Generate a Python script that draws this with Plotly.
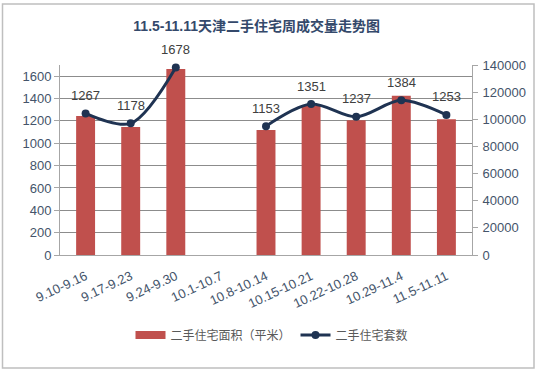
import plotly.graph_objects as go

categories = ["9.10-9.16", "9.17-9.23", "9.24-9.30", "10.1-10.7", "10.8-10.14",
              "10.15-10.21", "10.22-10.28", "10.29-11.4", "11.5-11.11"]
area_sqm = [102400, 94300, 137000, None, 92100, 109800, 99300, 117300, 100000]
units = [1267, 1178, 1678, None, 1153, 1351, 1237, 1384, 1253]

title_text = "11.5-11.11天津二手住宅周成交量走势图"
bar_name = "二手住宅面积（平米）"
line_name = "二手住宅套数"
FONT = "Liberation Sans, Noto Sans CJK SC, sans-serif"
W, H = 537, 375
L, R, T, B = 60, 65, 65, 120
pw, ph = W - L - R, H - T - B
BAR_COLOR = "#c0504d"
LINE_COLOR = "#1f3352"

def px_x(v):
    return (v - L) / pw

def px_y(v):
    return (H - B - v) / ph

fig = go.Figure()
fig.add_trace(go.Bar(
    x=categories, y=area_sqm, name=bar_name,
    marker=dict(color=BAR_COLOR, line=dict(width=0)),
    yaxis="y", showlegend=False,
))
# legend stand-in for the bar series (wide rectangle swatch)
fig.add_trace(go.Scatter(
    x=[None], y=[None], name=bar_name, mode="lines",
    line=dict(color=BAR_COLOR, width=8), yaxis="y",
))
fig.add_trace(go.Scatter(
    x=categories, y=units, name=line_name,
    mode="lines+markers",
    line=dict(color=LINE_COLOR, width=3, shape="spline", smoothing=0.9),
    marker=dict(color=LINE_COLOR, size=8),
    connectgaps=False, yaxis="y2", cliponaxis=False,
))

annotations = []
for c, v in zip(categories, units):
    if v is None:
        continue
    annotations.append(dict(
        x=c, y=v, xref="x", yref="y2", text=str(v), showarrow=False,
        yshift=18, font=dict(size=13, color="#404040", family=FONT),
    ))

fig.update_layout(
    width=W, height=H,
    margin=dict(l=L, r=R, t=T, b=B),
    paper_bgcolor="white", plot_bgcolor="white",
    font=dict(family=FONT, color="#44546a", size=13),
    title=dict(text="<b>" + title_text + "</b>", x=0.478, xanchor="center",
               y=1 - 26 / H, yanchor="middle",
               font=dict(size=14, color="#34496b", family=FONT)),
    bargap=0.58,
    showlegend=True,
    legend=dict(orientation="h", x=px_x(272), xanchor="center",
                y=px_y(335), yanchor="middle",
                font=dict(size=12, color="#595959", family=FONT),
                itemwidth=30, tracegroupgap=0),
    xaxis=dict(type="category", tickangle=-25, showgrid=False,
               showline=True, linecolor="#a6a6a6", linewidth=1,
               ticks="", ticklabelstandoff=8,
               tickfont=dict(size=13, color="#44546a")),
    yaxis=dict(side="right", range=[0, 140000], dtick=20000, showgrid=False,
               showline=True, linecolor="#a6a6a6", ticks="outside",
               ticklen=5, tickcolor="#a6a6a6", zeroline=False,
               tickformat="d", ticklabelstandoff=2,
               tickfont=dict(size=13, color="#44546a")),
    yaxis2=dict(side="left", overlaying="y", range=[0, 1700], dtick=200,
                showgrid=True, gridcolor="#8c8c8c", gridwidth=1,
                showline=True, linecolor="#a6a6a6", ticks="outside",
                ticklen=5, tickcolor="#a6a6a6", zeroline=False,
                tickformat="d",
                tickfont=dict(size=13, color="#44546a")),
    annotations=annotations,
)

fig.add_shape(type="rect", xref="paper", yref="paper",
              x0=px_x(2.5), x1=px_x(534), y0=px_y(368), y1=px_y(4),
              line=dict(color="#bfbfbf", width=1.5), fillcolor="rgba(0,0,0,0)",
              layer="below")

fig.write_html("out.html")
